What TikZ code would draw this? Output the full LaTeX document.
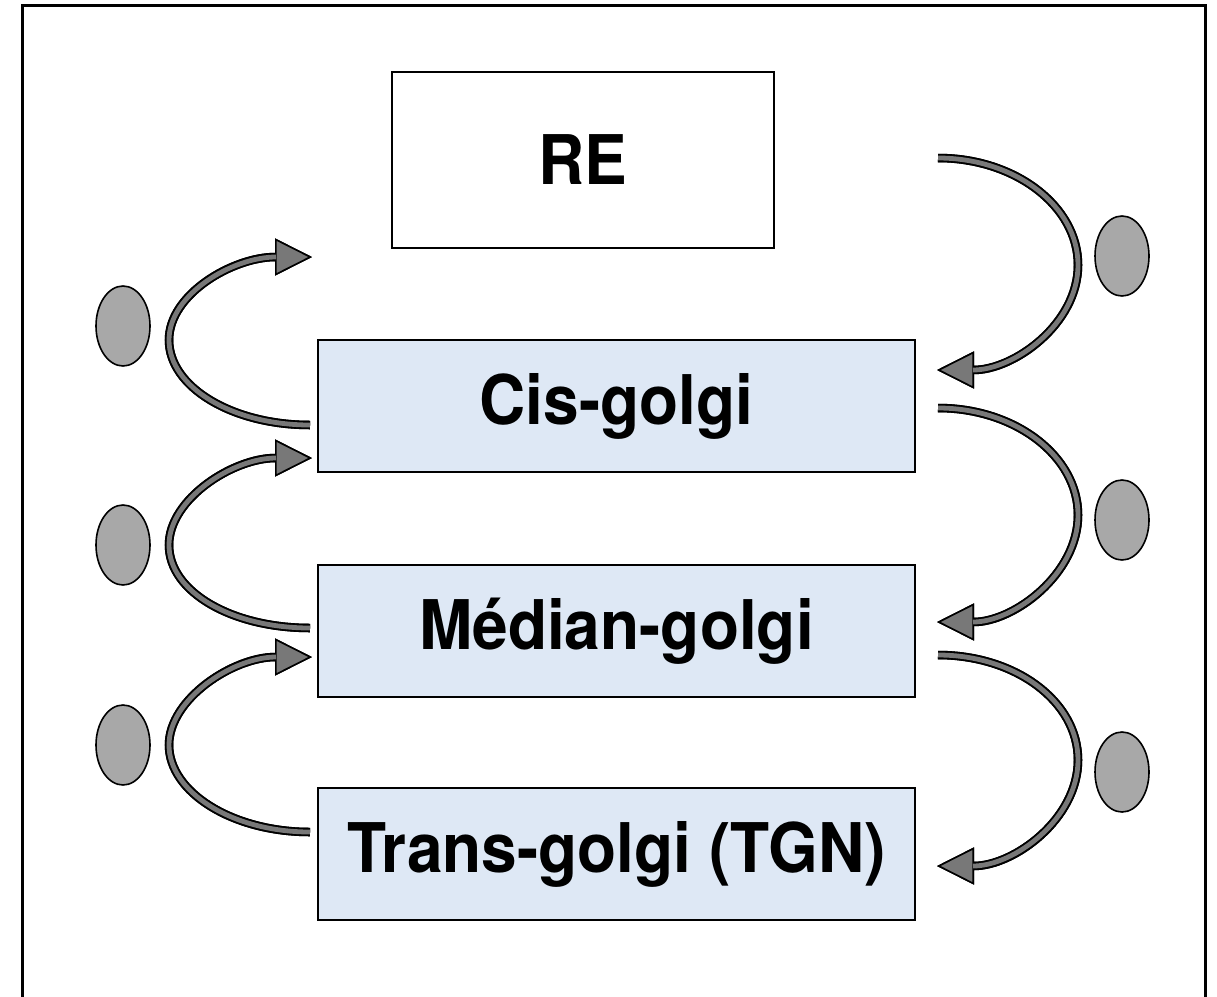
\documentclass[tikz,border=0pt]{standalone}
\usepackage{fontspec}
\setmainfont{TeX Gyre Heros}
\usetikzlibrary{arrows.meta}
\usetikzlibrary{shapes.geometric}

\definecolor{golgiblue}{HTML}{DEE8F5}
\definecolor{shaftgray}{HTML}{787878}
\definecolor{vesgray}{HTML}{A8A8A8}

\newcommand{\comptext}[1]{\scalebox{1}[1.07]{\fontsize{64}{70}\selectfont\bfseries #1}}

\tikzset{
  compartment/.style={draw, line width=1.4pt, inner sep=0pt},
  vesicle/.style={ellipse, draw, line width=1.6pt, fill=vesgray,
                  minimum width=54pt, minimum height=80pt, inner sep=0pt},
  transportline/.style={line width=8.5pt, black,
                  -{Triangle[length=37pt, width=37pt, fill=shaftgray, line width=1.6pt]}},
  transportshadow/.style={transportline, xshift=1.5pt, yshift=-1.5pt},
  transportfill/.style={line width=4.8pt, shaftgray, shorten >=36pt}
}

\begin{document}
\begin{tikzpicture}[x=1pt, y=-1pt]
\useasboundingbox (0,0) rectangle (1217,996);

% frame (open at the bottom)
\draw[line width=3pt] (22,1000) -- (22,5) -- (1205,5) -- (1205,1000);

% compartments
\node[compartment, fill=white, minimum width=382pt, minimum height=176pt]
  (re) at (583,160) {\comptext{RE}};
\node[compartment, fill=golgiblue, minimum width=597pt, minimum height=132pt]
  (cis) at (616.5,406) {\comptext{Cis-golgi}};
\node[compartment, fill=golgiblue, minimum width=597pt, minimum height=132pt]
  (median) at (616.5,631) {\comptext{M\'edian-golgi}};
\node[compartment, fill=golgiblue, minimum width=597pt, minimum height=132pt]
  (trans) at (616.5,854) {\comptext{Trans-golgi (TGN)}};

% vesicles
\foreach \y [count=\i] in {256,520,772}
  \node[vesicle] (vr\i) at (1122,\y) {};
\foreach \y [count=\i] in {326,545,745}
  \node[vesicle] (vl\i) at (123,\y) {};

% anterograde (right) and retrograde (left) end points
\foreach \s/\m/\e [count=\i] in {158/265/370, 408/515/622, 655/760/866}{
  \coordinate (fs\i) at (938,\s);
  \coordinate (fm\i) at (1078,\m);
  \coordinate (fe\i) at (937,\e);
}
\foreach \s/\m/\e [count=\i] in {425/340/257, 628/545/458, 832/745/657}{
  \coordinate (bs\i) at (310,\s);
  \coordinate (bm\i) at (169,\m);
  \coordinate (be\i) at (312,\e);
}

\foreach \i in {1,2,3}{
  \draw[transportshadow] (fs\i) .. controls +(77,0) and +(0,-59) .. (fm\i)
    .. controls +(0,59) and +(77,0) .. (fe\i);
  \draw[transportline] (fs\i) .. controls +(77,0) and +(0,-59) .. (fm\i)
    .. controls +(0,59) and +(77,0) .. (fe\i);
  \draw[transportfill] (fs\i) .. controls +(77,0) and +(0,-59) .. (fm\i)
    .. controls +(0,59) and +(77,0) .. (fe\i);
  \draw[transportshadow] (bs\i) .. controls +(-78,0) and +(0,47) .. (bm\i)
    .. controls +(0,-46) and +(-79,0) .. (be\i);
  \draw[transportline] (bs\i) .. controls +(-78,0) and +(0,47) .. (bm\i)
    .. controls +(0,-46) and +(-79,0) .. (be\i);
  \draw[transportfill] (bs\i) .. controls +(-78,0) and +(0,47) .. (bm\i)
    .. controls +(0,-46) and +(-79,0) .. (be\i);
}
\end{tikzpicture}
\end{document}
